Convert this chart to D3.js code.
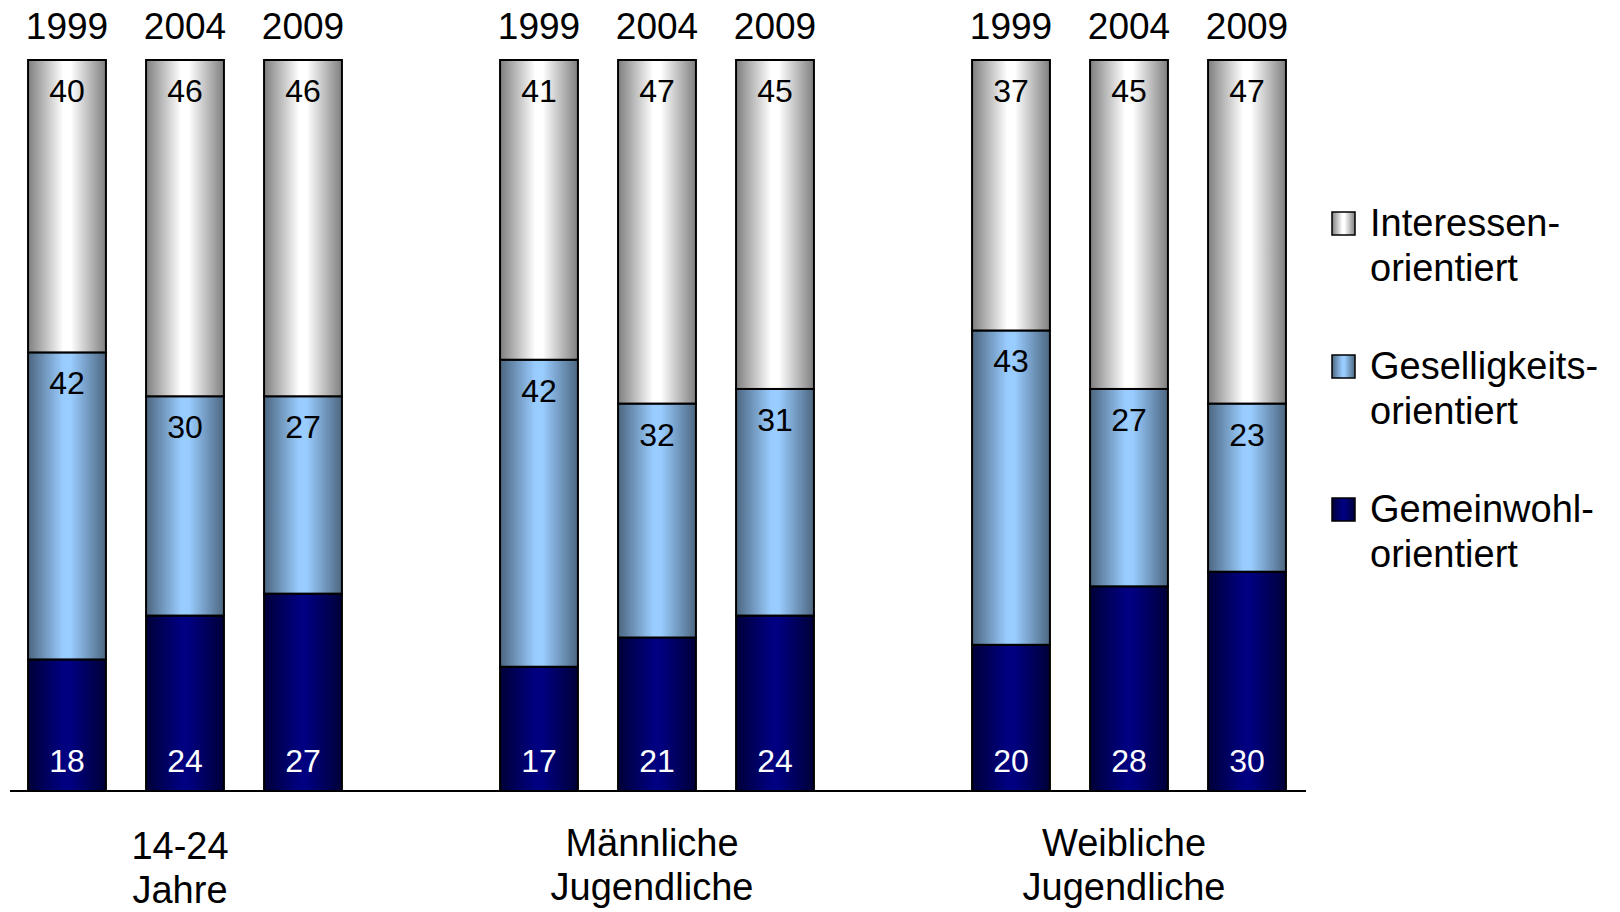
<!DOCTYPE html>
<html>
<head>
<meta charset="utf-8">
<script src="https://cdn.jsdelivr.net/npm/d3@7"></script>
<style>
  html, body { margin: 0; padding: 0; background: #fff; }
  svg { display: block; font-family: "Liberation Sans", Arial, sans-serif; }
</style>
</head>
<body>
<svg id="chart" width="1620" height="912"></svg>
<script>
// ---- data ----
const groupLines = [["14-24", "Jahre"], ["Männliche", "Jugendliche"], ["Weibliche", "Jugendliche"]];
const years = ["1999", "2004", "2009"];
const gemeinwohl   = [18, 24, 27, 17, 21, 24, 20, 28, 30];
const geselligkeit = [42, 30, 27, 42, 32, 31, 43, 27, 23];
const interessen   = [40, 46, 46, 41, 47, 45, 37, 45, 47];
const seriesKeys = ["gemeinwohl", "geselligkeit", "interessen"];
const legendLines = {
  interessen: ["Interessen-", "orientiert"],
  geselligkeit: ["Geselligkeits-", "orientiert"],
  gemeinwohl: ["Gemeinwohl-", "orientiert"]
};

// ---- build table ----
const rows = [];
groupLines.forEach((g, gi) => {
  years.forEach((yr, yi) => {
    const i = gi * 3 + yi;
    rows.push({ slot: `g${gi}-${yr}`, group: gi, year: yr,
      gemeinwohl: gemeinwohl[i], geselligkeit: geselligkeit[i], interessen: interessen[i] });
  });
});
const slots = [];
groupLines.forEach((g, gi) => {
  years.forEach(yr => slots.push(`g${gi}-${yr}`));
  if (gi < groupLines.length - 1) slots.push(`gap${gi}`);
});

const svg = d3.select("#chart");
const x = d3.scaleBand().domain(slots).range([8, 1306]).paddingInner(0.34).paddingOuter(0.17);
const y = d3.scaleLinear().domain([0, 100]).range([791, 60]);

const colors = {
  interessen:   { edge: "#7f7f7f", mid: "#ffffff" },
  geselligkeit: { edge: "#4c6680", mid: "#99ccff" },
  gemeinwohl:   { edge: "#000038", mid: "#000080" }
};
const textColor = { interessen: "#000", geselligkeit: "#000", gemeinwohl: "#fff" };

const defs = svg.append("defs");
seriesKeys.forEach(k => {
  const gr = defs.append("linearGradient").attr("id", "grad-" + k)
    .attr("x1", "0%").attr("x2", "100%").attr("y1", "0%").attr("y2", "0%");
  gr.append("stop").attr("offset", "0%").attr("stop-color", colors[k].edge);
  gr.append("stop").attr("offset", "45%").attr("stop-color", colors[k].mid);
  gr.append("stop").attr("offset", "55%").attr("stop-color", colors[k].mid);
  gr.append("stop").attr("offset", "100%").attr("stop-color", colors[k].edge);
});

const stacked = d3.stack().keys(seriesKeys)(rows);

const layers = svg.append("g").selectAll("g").data(stacked).join("g");
layers.selectAll("rect").data(d => d.map(p => ({ p, key: d.key })))
  .join("rect")
  .attr("x", d => x(d.p.data.slot))
  .attr("width", x.bandwidth())
  .attr("y", d => y(d.p[1]))
  .attr("height", d => y(d.p[0]) - y(d.p[1]))
  .attr("fill", d => `url(#grad-${d.key})`)
  .attr("stroke", "#000")
  .attr("stroke-width", 2);

// value labels
layers.selectAll("text").data(d => d.map(p => ({ p, key: d.key })))
  .join("text")
  .attr("x", d => x(d.p.data.slot) + x.bandwidth() / 2)
  .attr("y", d => d.key === "gemeinwohl" ? y(d.p[0]) - 19 : y(d.p[1]) + 42)
  .attr("text-anchor", "middle")
  .attr("font-size", 32)
  .attr("fill", d => textColor[d.key])
  .text(d => d.p.data[d.key]);

// year labels on top
svg.append("g").selectAll("text").data(rows).join("text")
  .attr("x", d => x(d.slot) + x.bandwidth() / 2)
  .attr("y", 39)
  .attr("text-anchor", "middle")
  .attr("font-size", 37)
  .attr("fill", "#000")
  .text(d => d.year);

// axis baseline
svg.append("line")
  .attr("x1", 10).attr("x2", 1306)
  .attr("y1", y(0)).attr("y2", y(0))
  .attr("stroke", "#000").attr("stroke-width", 2);

// group labels
const gl = svg.append("g").selectAll("text").data(groupLines).join("text")
  .attr("x", (d, gi) => x(`g${gi}-2004`) + x.bandwidth() / 2 - 5)
  .attr("y", (d, gi) => gi === 0 ? 859 : 856)
  .attr("text-anchor", "middle")
  .attr("font-size", 38)
  .attr("fill", "#000");
gl.selectAll("tspan").data(d => d).join("tspan")
  .attr("x", function () { return d3.select(this.parentNode).attr("x"); })
  .attr("dy", (d, i) => i === 0 ? 0 : 44)
  .text(d => d);

// legend
const legendOrder = ["interessen", "geselligkeit", "gemeinwohl"];
const lg = svg.append("g").selectAll("g").data(legendOrder).join("g")
  .attr("transform", (d, i) => `translate(1332, ${236 + i * 143})`);
lg.append("rect")
  .attr("y", -24)
  .attr("width", 23).attr("height", 23)
  .attr("fill", d => `url(#grad-${d})`)
  .attr("stroke", "#000").attr("stroke-width", 1.5);
const lt = lg.append("text")
  .attr("x", 38).attr("y", 0)
  .attr("font-size", 38)
  .attr("fill", "#000");
lt.selectAll("tspan").data(d => legendLines[d]).join("tspan")
  .attr("x", 38)
  .attr("dy", (d, i) => i === 0 ? 0 : 45)
  .text(d => d);
</script>
</body>
</html>
